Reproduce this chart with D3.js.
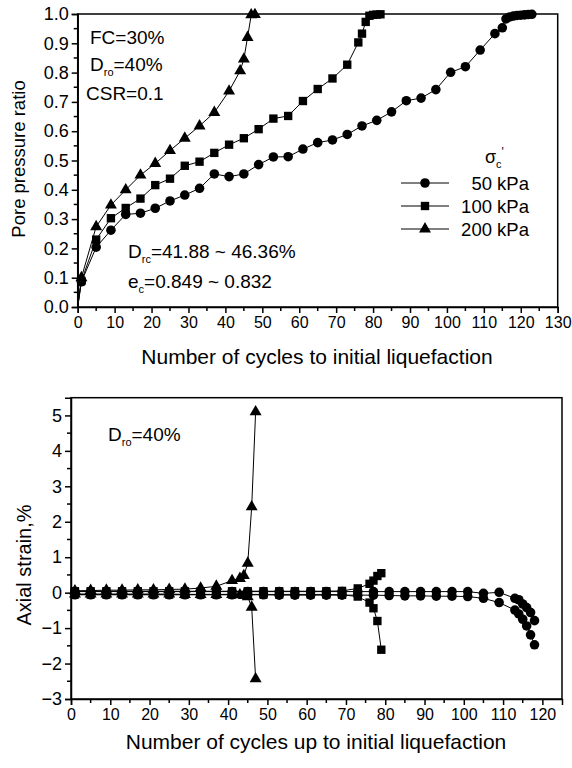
<!DOCTYPE html>
<html>
<head>
<meta charset="utf-8">
<script src="https://cdn.jsdelivr.net/npm/d3@7"></script>
<style>
  body { margin: 0; background: #fff; }
  svg text { font-family: Arial, "Liberation Sans", sans-serif; fill: #000; }
</style>
</head>
<body>
<div id="plot"></div>
<script>
// ---- top chart: pore pressure ratio ----
const cyc50 = [0, 1, 5, 9, 13, 17, 21, 25, 29, 33, 37, 41, 45, 49, 53, 57, 61, 65, 69, 73, 77, 81, 85, 89, 93, 97, 101, 105, 109, 113, 115, 116, 117, 118, 119, 120, 121, 122, 123];
const ppr50 = [0, 0.086, 0.204, 0.262, 0.316, 0.32, 0.337, 0.362, 0.382, 0.405, 0.454, 0.445, 0.454, 0.486, 0.512, 0.513, 0.539, 0.561, 0.57, 0.589, 0.618, 0.637, 0.666, 0.704, 0.713, 0.742, 0.801, 0.82, 0.877, 0.933, 0.953, 0.983, 0.99, 0.993, 0.995, 0.996, 0.997, 0.998, 0.999];
const cyc100 = [0, 1, 5, 9, 13, 17, 21, 25, 29, 33, 37, 41, 45, 49, 53, 57, 61, 65, 69, 73, 76, 77, 78, 79, 80, 81, 82];
const ppr100 = [0, 0.089, 0.23, 0.303, 0.338, 0.37, 0.416, 0.438, 0.482, 0.496, 0.526, 0.554, 0.576, 0.607, 0.643, 0.652, 0.703, 0.744, 0.78, 0.827, 0.903, 0.933, 0.973, 0.994, 0.997, 0.998, 0.999];
const cyc200 = [0, 1, 5, 9, 13, 17, 21, 25, 29, 33, 37, 41, 44, 45, 46, 47, 48];
const ppr200 = [0, 0.1, 0.274, 0.348, 0.4, 0.45, 0.49, 0.534, 0.576, 0.618, 0.664, 0.737, 0.806, 0.846, 0.92, 0.997, 0.998];

// ---- bottom chart: axial strain (upper / lower trace per cycle) ----
const sCyc50 = [1, 5, 9, 13, 17, 21, 25, 29, 33, 37, 41, 45, 49, 53, 57, 61, 65, 69, 73, 77, 81, 85, 89, 93, 97, 101, 105, 109, 113, 114, 115, 116, 117, 118];
const sUp50 = [0.03, 0.03, 0.03, 0.03, 0.03, 0.03, 0.03, 0.03, 0.03, 0.03, 0.03, 0.03, 0.03, 0.03, 0.03, 0.03, 0.03, 0.03, 0.03, 0.03, 0.03, 0.03, 0.03, 0.03, 0.03, 0.03, -0.02, 0.01, -0.16, -0.2, -0.32, -0.42, -0.56, -0.79];
const sLo50 = [-0.06, -0.06, -0.06, -0.06, -0.06, -0.06, -0.06, -0.06, -0.06, -0.06, -0.06, -0.06, -0.06, -0.07, -0.07, -0.07, -0.07, -0.07, -0.07, -0.07, -0.08, -0.09, -0.09, -0.1, -0.1, -0.11, -0.16, -0.28, -0.49, -0.6, -0.75, -0.94, -1.19, -1.47];
const sCyc100 = [1, 5, 9, 13, 17, 21, 25, 29, 33, 37, 41, 45, 49, 53, 57, 61, 65, 69, 73, 76, 77, 78, 79];
const sUp100 = [0.04, 0.04, 0.04, 0.04, 0.04, 0.04, 0.04, 0.04, 0.04, 0.04, 0.04, 0.04, 0.04, 0.04, 0.04, 0.04, 0.04, 0.05, 0.12, 0.25, 0.34, 0.47, 0.55];
const sLo100 = [-0.05, -0.05, -0.05, -0.05, -0.05, -0.05, -0.05, -0.05, -0.05, -0.05, -0.05, -0.05, -0.05, -0.05, -0.05, -0.05, -0.05, -0.06, -0.11, -0.28, -0.44, -0.8, -1.61];
const sCyc200 = [1, 5, 9, 13, 17, 21, 25, 29, 33, 37, 41, 43, 44, 45, 46, 47];
const sUp200 = [0.05, 0.06, 0.07, 0.07, 0.08, 0.08, 0.09, 0.1, 0.13, 0.18, 0.34, 0.4, 0.48, 0.83, 2.42, 5.1];
const sLo200 = [-0.04, -0.04, -0.04, -0.04, -0.04, -0.04, -0.04, -0.05, -0.05, -0.05, -0.05, -0.06, -0.08, -0.12, -0.41, -2.43];

const legendLabels = ["50 kPa", "100 kPa", "200 kPa"];
const topXTicks = d3.range(0, 131, 10);
const topYTicks = d3.range(0, 1.01, 0.1);
const botXTicks = d3.range(0, 121, 10);
const botYTicks = d3.range(-3, 5.1, 1);

const width = 572,
  height = 768;
const svg = d3.select("#plot").append("svg").attr("width", width).attr("height", height);

const symCircle = d3.symbol().type(d3.symbolCircle).size(72);
const symSquare = d3.symbol().type(d3.symbolSquare).size(70);
const symTri = d3.symbol().type(d3.symbolTriangle).size(62);
const shapes = [symCircle, symSquare, symTri];

const zip = (xs, ys) => xs.map((x, i) => [x, ys[i]]);

function frame(g, x, y, xTicks, yTicks, xMinor, yMinor, yFmt) {
  const [x0, x1] = x.range();
  const [y0, y1] = y.range();
  g.append("rect").attr("x", x0).attr("y", y1).attr("width", x1 - x0).attr("height", y0 - y1)
    .attr("fill", "none").attr("stroke", "#000").attr("stroke-width", 1.5);
  const gx = g.append("g").attr("transform", `translate(0,${y0})`)
    .call(d3.axisBottom(x).tickValues(xTicks).tickSize(6).tickPadding(4).tickFormat(d3.format("d")));
  gx.append("g").selectAll("line").data(xMinor).join("line")
    .attr("x1", d => x(d)).attr("x2", d => x(d)).attr("y2", 4).attr("stroke", "#000").attr("stroke-width", 1.5);
  const gy = g.append("g").attr("transform", `translate(${x0},0)`)
    .call(d3.axisLeft(y).tickValues(yTicks).tickSize(6).tickPadding(3).tickFormat(yFmt));
  gy.append("g").selectAll("line").data(yMinor).join("line")
    .attr("y1", d => y(d)).attr("y2", d => y(d)).attr("x2", -4).attr("stroke", "#000").attr("stroke-width", 1.5);
  g.selectAll(".domain").attr("stroke-width", 1.5);
  g.selectAll(".tick line").attr("stroke-width", 1.5);
  gx.selectAll(".tick text").style("font-size", "16px");
  gy.selectAll(".tick text").style("font-size", "18px");
}

function series(g, x, y, pts, sym) {
  const line = d3.line().x(d => x(d[0])).y(d => y(d[1]));
  g.append("path").datum(pts).attr("d", line).attr("fill", "none").attr("stroke", "#000").attr("stroke-width", 1);
  g.append("g").selectAll("path").data(pts.filter(d => d[0] > 0)).join("path")
    .attr("transform", d => `translate(${x(d[0])},${y(d[1])})`).attr("d", sym()).attr("fill", "#000");
}

// subscripted label like D_ro=40%
function subLabel(g, x, y, main, sub, rest, size) {
  const t = g.append("text").attr("x", x).attr("y", y).style("font-size", size + "px");
  t.append("tspan").text(main);
  t.append("tspan").attr("dy", 5).style("font-size", "11px").text(sub);
  t.append("tspan").attr("dy", -5).text(rest);
  return t;
}

// ---------- top chart ----------
const xT = d3.scaleLinear().domain([0, 130]).range([77.7, 557.7]);
const yT = d3.scaleLinear().domain([0, 1]).range([307, 14]);
const gT = svg.append("g");
frame(gT, xT, yT, topXTicks, topYTicks, d3.range(5, 130, 10), d3.range(0.05, 1, 0.1), d3.format(".1f"));

series(gT, xT, yT, zip(cyc50, ppr50), symCircle);
series(gT, xT, yT, zip(cyc100, ppr100), symSquare);
series(gT, xT, yT, zip(cyc200, ppr200), symTri);

gT.append("text").attr("x", 317).attr("y", 364).attr("text-anchor", "middle").style("font-size", "21px")
  .text("Number of cycles to initial liquefaction");
gT.append("text").attr("transform", "translate(25,159) rotate(-90)").attr("text-anchor", "middle").style("font-size", "18.5px")
  .text("Pore pressure ratio");

gT.append("text").attr("x", 90).attr("y", 44).style("font-size", "19px").text("FC=30%");
subLabel(gT, 90, 71, "D", "ro", "=40%", 19);
gT.append("text").attr("x", 86).attr("y", 100).style("font-size", "19px").text("CSR=0.1");
subLabel(gT, 128, 258, "D", "rc", "=41.88 ~ 46.36%", 19);
subLabel(gT, 128, 288, "e", "c", "=0.849 ~ 0.832", 19);

// legend
const lg = gT.append("g");
const sig = lg.append("text").attr("x", 485).attr("y", 163).style("font-size", "18px");
sig.append("tspan").text("σ");
sig.append("tspan").attr("dy", 5).style("font-size", "11px").text("c");
sig.append("tspan").attr("dy", -12).style("font-size", "12px").text("'");
const rows = [183, 206, 229];
legendLabels.forEach((lab, i) => {
  lg.append("line").attr("x1", 401).attr("x2", 449).attr("y1", rows[i]).attr("y2", rows[i])
    .attr("stroke", "#000").attr("stroke-width", 1);
  lg.append("path").attr("transform", `translate(425,${rows[i]})`).attr("d", shapes[i]()).attr("fill", "#000");
  lg.append("text").attr("x", 529).attr("y", rows[i] + 7).attr("text-anchor", "end").style("font-size", "18.5px").text(lab);
});

// ---------- bottom chart ----------
const xB = d3.scaleLinear().domain([0, 125]).range([71, 562]);
const yB = d3.scaleLinear().domain([-3, 5.5]).range([699, 397.7]);
const gB = svg.append("g");
frame(gB, xB, yB, botXTicks, botYTicks, d3.range(5, 125, 10), d3.range(-2.5, 5.5, 1), d3.format("d"));

series(gB, xB, yB, zip(sCyc50, sUp50), symCircle);
series(gB, xB, yB, zip(sCyc50, sLo50), symCircle);
series(gB, xB, yB, zip(sCyc100, sUp100), symSquare);
series(gB, xB, yB, zip(sCyc100, sLo100), symSquare);
series(gB, xB, yB, zip(sCyc200, sUp200), symTri);
series(gB, xB, yB, zip(sCyc200, sLo200), symTri);

gB.append("text").attr("x", 316).attr("y", 749).attr("text-anchor", "middle").style("font-size", "21px")
  .text("Number of cycles up to initial liquefaction");
gB.append("text").attr("transform", "translate(31,565) rotate(-90)").attr("text-anchor", "middle").style("font-size", "20px")
  .text("Axial strain,%");
subLabel(gB, 108, 441, "D", "ro", "=40%", 19);
</script>
</body>
</html>
